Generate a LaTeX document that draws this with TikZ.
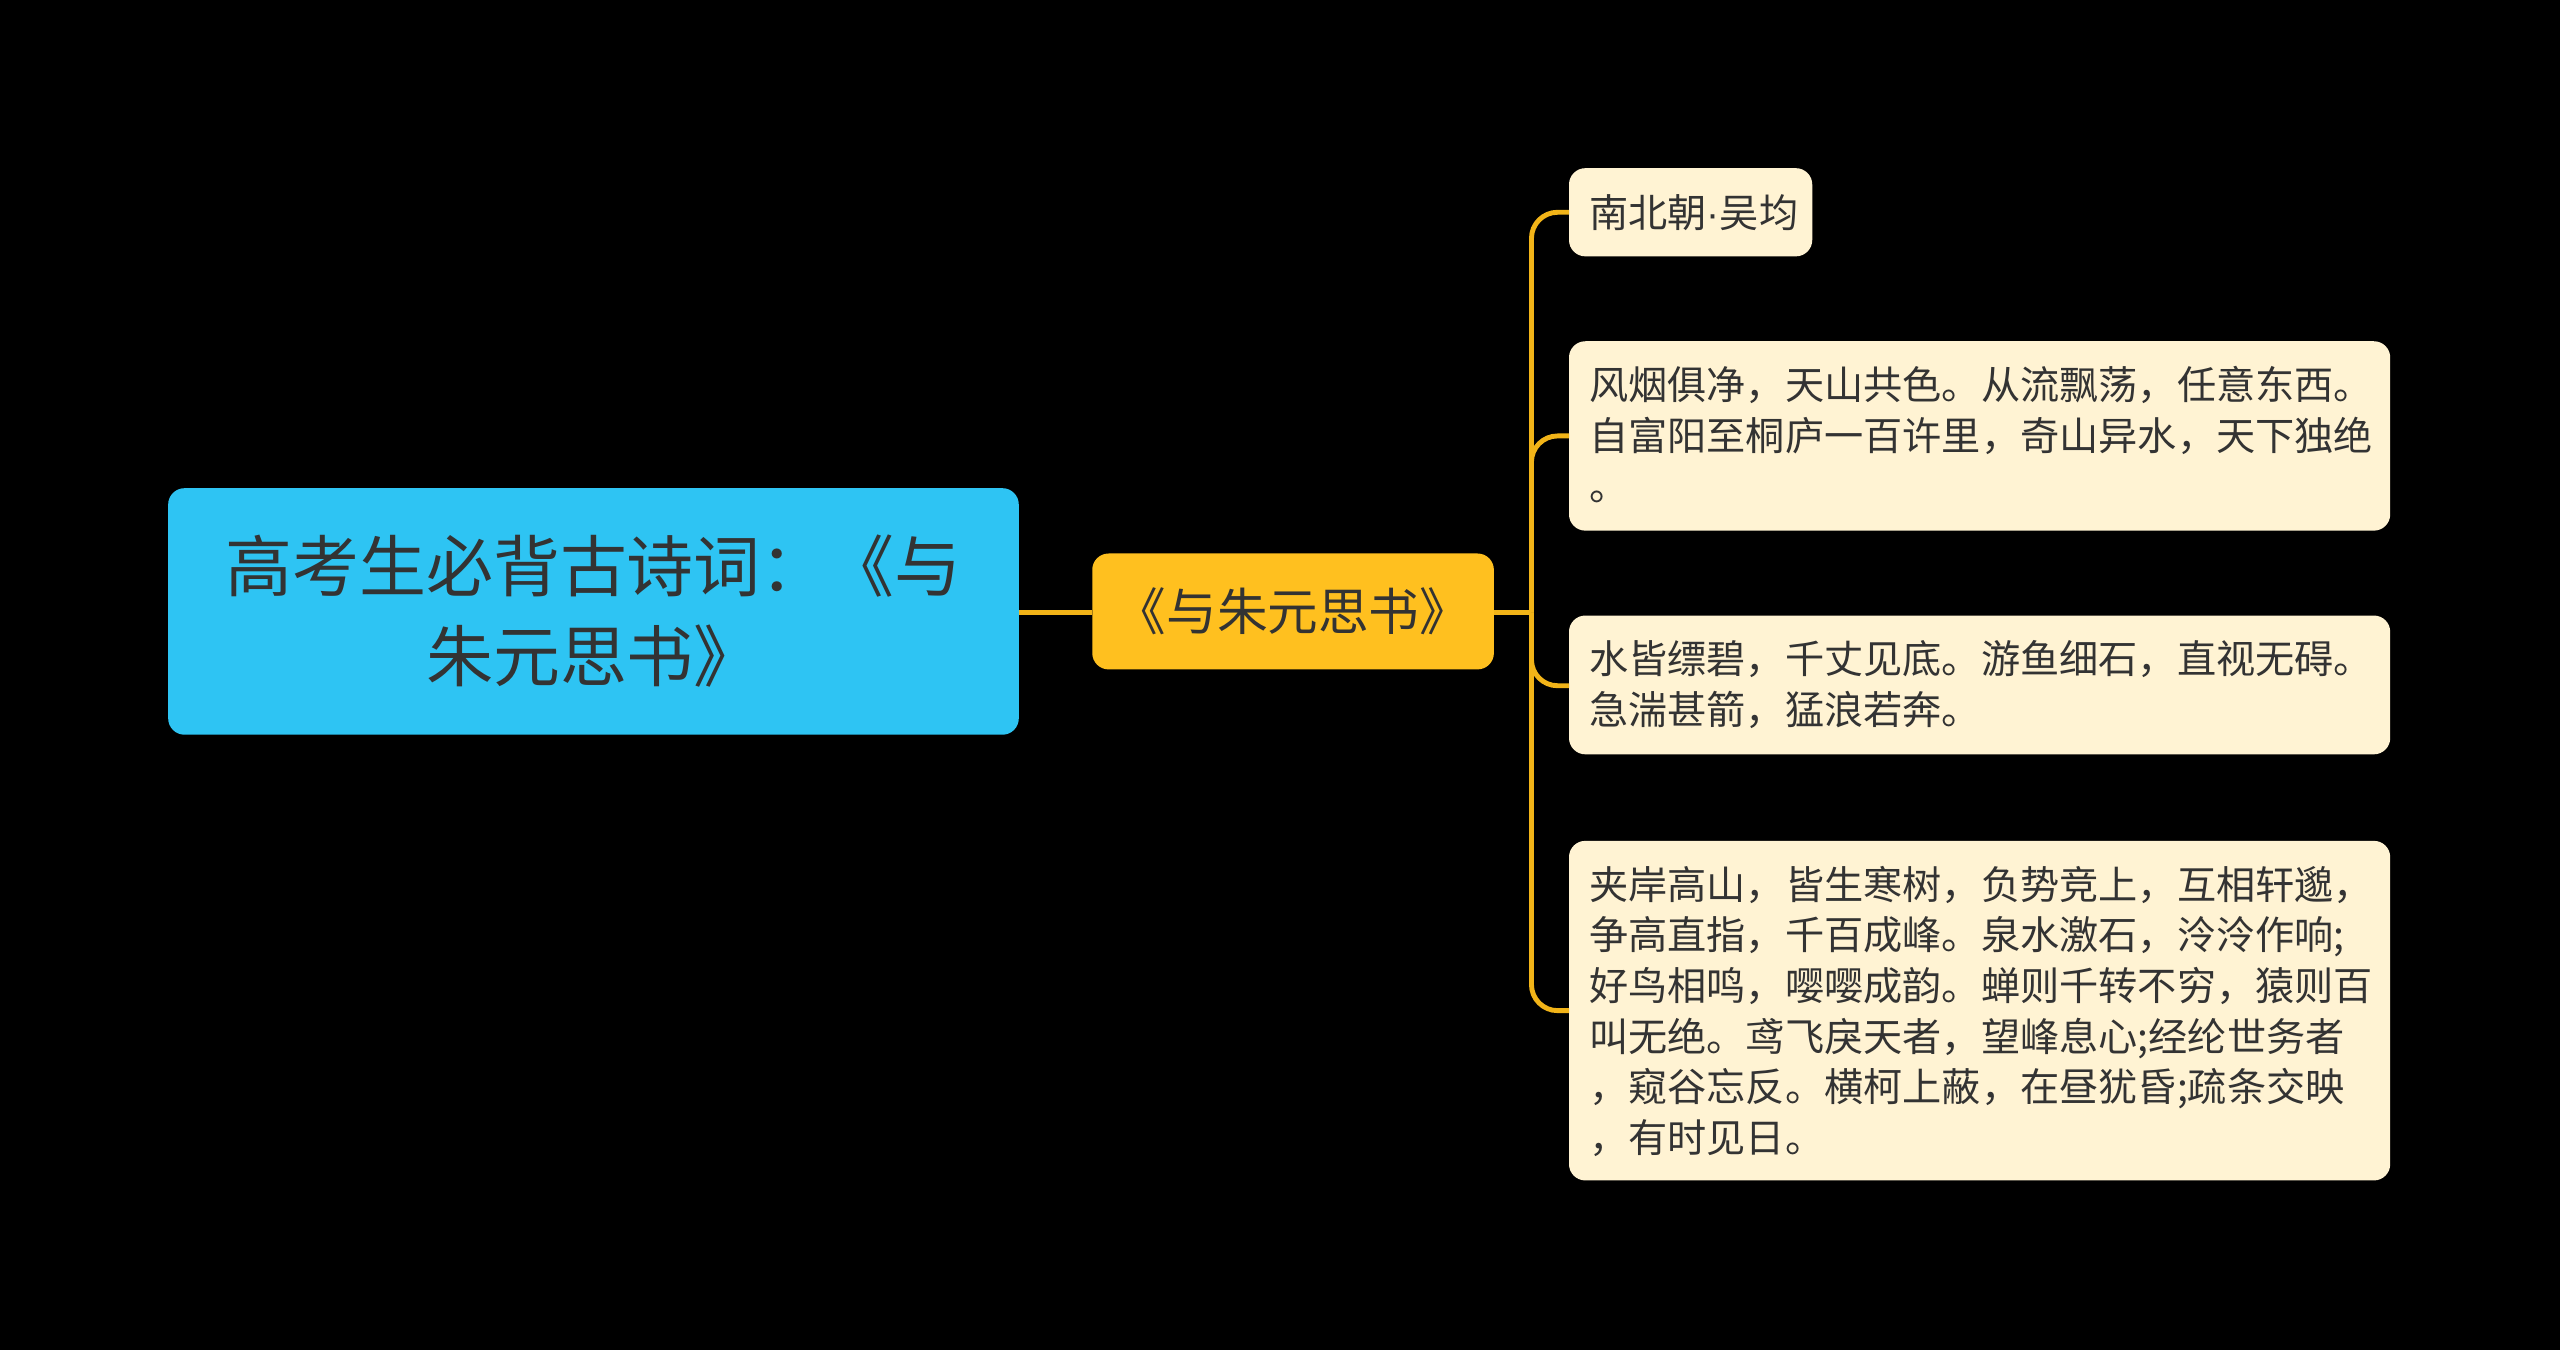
\documentclass[tikz,border=0pt]{standalone}
\usepackage{fontspec}
\setmainfont{Noto Sans CJK SC}
\newfontfamily\latinfont{Liberation Sans}
\begin{document}
\begin{tikzpicture}[x=0.5pt,y=-0.5pt,
  line/.style={draw=lineGold,line width=1.5pt,rounded corners=8pt},
  leaftext/.style={text=textDark,anchor=north west,align=left,inner sep=0pt,font=\fontsize{12}{15.5}\selectfont}]
\definecolor{lineGold}{HTML}{F2B418}
\definecolor{leafFill}{HTML}{FFF3D3}
\definecolor{textDark}{HTML}{333333}
\definecolor{rootBlue}{HTML}{2EC4F3}
\definecolor{midGold}{HTML}{FFC01F}
\fill[black] (0,0) rectangle (1568,827);
\useasboundingbox (0,0) rectangle (1568,827);
% root
\fill[rootBlue,rounded corners=5pt] (103,299) rectangle (624,450);
\node[text=textDark,align=center,font=\fontsize{20.5}{27.5}\selectfont] (root) at (363.5,374.5) {高考生必背古诗词：《与\\朱元思书》};
\coordinate (rootE) at (624,375);
% mid
\fill[midGold,rounded corners=5pt] (669,339) rectangle (915,410);
\node[text=textDark,font=\fontsize{15.5}{18}\selectfont] (mid) at (792,374.5) {《与朱元思书》};
\coordinate (midW) at (669,375);
\coordinate (midE) at (915,375);
% leaves
\fill[leafFill,rounded corners=5pt] (961,103) rectangle (1110,157);
\node[text=textDark,anchor=west,inner sep=0pt,font=\fontsize{12}{15.5}\selectfont] (l1) at (973,130) {南北朝{\latinfont·}吴均};
\fill[leafFill,rounded corners=5pt] (961,209) rectangle (1464,325);
\node[leaftext] (l2) at (973,224) {风烟俱净，天山共色。从流飘荡，任意东西。\\自富阳至桐庐一百许里，奇山异水，天下独绝\\。};
\fill[leafFill,rounded corners=5pt] (961,377) rectangle (1464,462);
\node[leaftext] (l3) at (973,392) {水皆缥碧，千丈见底。游鱼细石，直视无碍。\\急湍甚箭，猛浪若奔。};
\fill[leafFill,rounded corners=5pt] (961,515) rectangle (1464,723);
\node[leaftext] (l4) at (973,530) {夹岸高山，皆生寒树，负势竞上，互相轩邈，\\争高直指，千百成峰。泉水激石，泠泠作响;\\好鸟相鸣，嘤嘤成韵。蝉则千转不穷，猿则百\\叫无绝。鸢飞戾天者，望峰息心;经纶世务者\\，窥谷忘反。横柯上蔽，在昼犹昏;疏条交映\\，有时见日。};
\coordinate (t1) at (961,130);
\coordinate (t2) at (961,267);
\coordinate (t3) at (961,420);
\coordinate (t4) at (961,619);
\draw[line] (rootE) -- (midW);
\coordinate (bus) at (938,375);
\draw[line] (midE) -- (bus);
\foreach \t in {t1,t2,t3,t4} \draw[line] (bus) |- (\t);
\end{tikzpicture}
\end{document}
